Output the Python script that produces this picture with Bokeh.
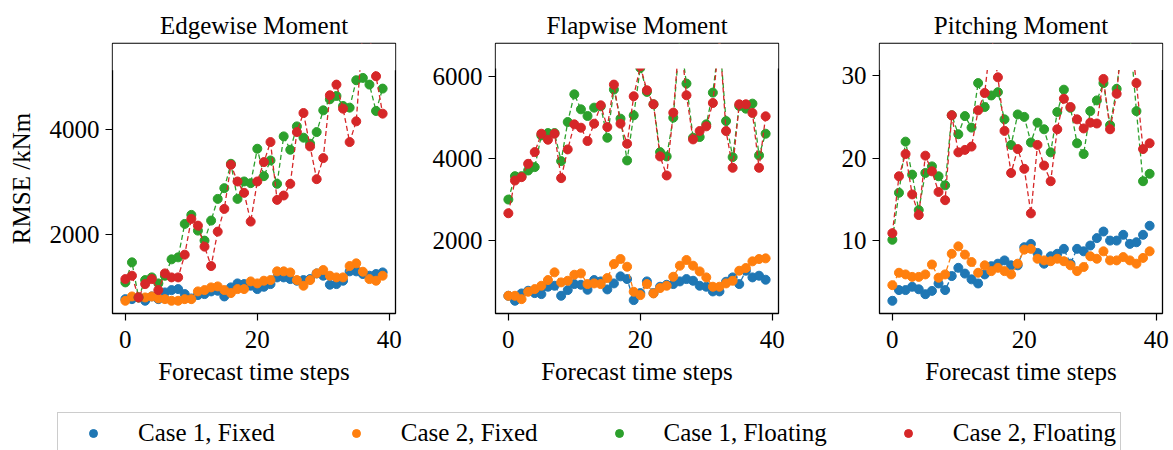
from bokeh.plotting import figure
from bokeh.models import Range1d, FixedTicker, BoxAnnotation, Legend, LegendItem, ColumnDataSource
from bokeh.layouts import row, column
from bokeh.embed import file_html
from bokeh.resources import INLINE

steps = list(range(40))

# Edgewise moment RMSE (kNm)
edge_c1_fixed = [774, 774, 806, 743, 825, 774, 901, 946, 965, 870, 787, 851, 870, 921, 933, 825, 997, 1073, 1060, 1029,
                 965, 1009, 1060, 1187, 1187, 1155, 1124, 1136, 1155, 1263, 1219, 1048, 1060, 1124, 1302, 1302, 1251, 1219, 1251, 1282]
edge_c2_fixed = [743, 825, 806, 806, 825, 787, 774, 743, 743, 774, 774, 921, 946, 997, 1016, 946, 889, 965, 965, 1111,
                 1073, 1124, 1136, 1302, 1302, 1282, 1136, 1029, 1136, 1263, 1327, 1219, 1187, 1187, 1403, 1454, 1295, 1155, 1124, 1219]
edge_c1_float = [1092, 1473, 806, 1136, 1187, 1073, 1219, 1530, 1568, 2203, 2375, 2076, 1886, 2267, 2679, 2883, 3346, 2679, 3010, 2978,
                 3632, 3111, 3410, 2965, 3867, 3613, 4057, 3842, 3727, 3949, 4362, 4572, 4635, 4445, 4413, 4934, 4978, 4851, 4350, 4775]
edge_c2_float = [1155, 1219, 806, 1060, 1155, 946, 1263, 1187, 1187, 1619, 2298, 2171, 1771, 1403, 2057, 2489, 3327, 3010, 2794, 2248,
                 3010, 3378, 3759, 2660, 2743, 2965, 3949, 4311, 3676, 3054, 3454, 4648, 4851, 4394, 3759, 4153, 5900, 5800, 5010, 4299]

# Flapwise moment RMSE (kNm)
flap_c1_fixed = [653, 531, 710, 776, 718, 694, 874, 898, 653, 792, 939, 922, 800, 1037, 1004, 808, 955, 1127, 1061, 547,
                 718, 1004, 718, 874, 922, 939, 1004, 1061, 1020, 898, 874, 759, 759, 996, 1102, 939, 1265, 1102, 1143, 1045]
flap_c2_fixed = [653, 653, 571, 751, 816, 898, 1037, 1225, 980, 1020, 1167, 1200, 939, 955, 939, 1086, 1429, 1551, 1363, 751,
                 669, 939, 710, 841, 898, 1118, 1388, 1527, 1388, 1249, 1102, 874, 874, 955, 1020, 1265, 1331, 1494, 1551, 1567]
flap_c1_float = [3004, 3575, 3575, 3714, 3796, 4571, 4628, 4628, 3943, 4898, 5575, 5208, 5045, 5249, 5282, 4514, 5690, 4980, 3959, 5061,
                 6220, 5633, 5331, 4163, 4057, 5004, 7000, 5837, 4514, 4531, 4841, 5616, 6950, 4922, 4041, 5290, 5224, 5347, 4082, 4612]
flap_c2_float = [2669, 3469, 3551, 3877, 4163, 4612, 4465, 4612, 3527, 4229, 4841, 4759, 4433, 4857, 5306, 4775, 5812, 4857, 4367, 5527,
                 6260, 5673, 5331, 4057, 3592, 5127, 7100, 5551, 4473, 4678, 4792, 5363, 7000, 4678, 3780, 5331, 5331, 5118, 3780, 5037]

# Pitching moment RMSE (kNm)
pitch_c1_fixed = [2.7, 4.0, 4.0, 4.4, 4.1, 3.5, 3.9, 4.8, 4.0, 5.7, 6.7, 6.0, 5.3, 4.8, 5.9, 6.9, 7.2, 7.6, 7.0, 7.0,
                  9.2, 9.6, 8.5, 7.2, 8.1, 8.4, 9.0, 7.2, 9.0, 8.7, 9.4, 10.3, 11.1, 10.0, 10.0, 10.7, 9.6, 9.8, 10.7, 11.8]
pitch_c2_fixed = [4.6, 6.1, 5.9, 5.6, 5.6, 5.9, 7.1, 5.5, 5.9, 8.4, 9.3, 8.3, 7.4, 6.1, 7.0, 6.3, 6.7, 6.3, 5.9, 7.2,
                  8.9, 9.0, 7.8, 7.6, 7.5, 7.8, 7.5, 7.0, 6.3, 6.8, 8.1, 7.8, 8.7, 7.6, 7.6, 8.0, 7.6, 7.2, 7.9, 8.7]
pitch_c1_float = [10.1, 15.8, 22.0, 18.0, 13.7, 18.2, 19.0, 17.8, 16.7, 25.2, 22.9, 25.1, 23.7, 29.1, 26.2, 27.6, 28.0, 24.7, 21.6, 25.3,
                  25.0, 21.9, 24.3, 23.5, 20.7, 25.6, 28.3, 26.1, 21.8, 20.5, 25.7, 27.0, 29.1, 24.0, 28.4, 35.5, 35.0, 25.7, 17.2, 18.1]
pitch_c2_float = [10.9, 17.8, 20.5, 15.6, 13.1, 20.3, 18.4, 15.9, 14.9, 25.2, 20.7, 21.0, 21.4, 25.8, 27.9, 35.0, 29.8, 23.3, 18.2, 21.1,
                  18.7, 13.3, 21.6, 19.1, 17.2, 23.5, 27.2, 26.2, 24.7, 23.6, 24.3, 24.2, 29.6, 23.5, 27.8, 36.0, 35.5, 29.1, 21.1, 21.8]

series_labels = ["Case 1, Fixed", "Case 2, Fixed", "Case 1, Floating", "Case 2, Floating"]
series_colors = ["#1f77b4", "#ff7f0e", "#2ca02c", "#d62728"]

titles = ["Edgewise Moment", "Flapwise Moment", "Pitching Moment"]
x_ticks = [0, 20, 40]
y_ticks = [[2000, 4000], [2000, 4000, 6000], [10, 20, 30]]
y_limits = [(501, 5632), (220, 6816), (1.16, 33.9)]
y_caps = [5124, 6204, 30.7]
panel_data = [
    [edge_c1_fixed, edge_c2_fixed, edge_c1_float, edge_c2_float],
    [flap_c1_fixed, flap_c2_fixed, flap_c1_float, flap_c2_float],
    [pitch_c1_fixed, pitch_c2_fixed, pitch_c1_float, pitch_c2_float],
]

FONT = "Liberation Serif"
FS = "25px"
X0, X1 = -1.95, 40.95
H = 400
FRAME_W = 283
FRAME_H = 270
widths = [425, 390, 358]
left_borders = [112, 70, 64]

figs = []
for k in range(3):
    p = figure(width=widths[k], height=H, output_backend="svg", toolbar_location=None,
               x_range=Range1d(X0, X1), y_range=Range1d(*y_limits[k]),
               min_border_left=left_borders[k], min_border_right=widths[k] - left_borders[k] - FRAME_W,
               min_border_top=43, min_border_bottom=H - 43 - FRAME_H)
    p.title.text = titles[k]
    p.title.align = "center"
    p.title.text_font = FONT
    p.title.text_font_size = FS
    p.title.text_font_style = "normal"
    p.title.text_color = "black"
    p.title.standoff = 9
    p.xgrid.visible = False
    p.ygrid.visible = False
    p.outline_line_color = "black"
    p.outline_line_width = 1.3
    p.outline_line_alpha = 1
    p.background_fill_color = "white"
    p.border_fill_color = "white"
    for ax in (p.xaxis[0], p.yaxis[0]):
        ax.axis_line_color = None
        ax.major_tick_out = 7
        ax.major_tick_in = 0
        ax.major_tick_line_color = "black"
        ax.major_tick_line_width = 1.2
        ax.minor_tick_line_color = None
        ax.major_label_text_font = FONT
        ax.major_label_text_font_size = FS
        ax.major_label_text_color = "black"
        ax.major_label_standoff = 6
        ax.axis_label_text_font = FONT
        ax.axis_label_text_font_size = FS
        ax.axis_label_text_font_style = "normal"
        ax.axis_label_text_color = "black"
    p.xaxis.ticker = FixedTicker(ticks=x_ticks)
    p.yaxis.ticker = FixedTicker(ticks=y_ticks[k])
    p.xaxis.major_label_standoff = 10
    p.xaxis.axis_label = "Forecast time steps"
    p.xaxis.axis_label_standoff = 7
    if k == 0:
        p.yaxis.axis_label = "RMSE /kNm"
        p.yaxis.axis_label_standoff = 12

    for vals, col in zip(panel_data[k], series_colors):
        src = ColumnDataSource(dict(x=steps, y=vals))
        p.line("x", "y", source=src, line_color=col, line_width=1.3, line_dash="5 3")
        p.scatter("x", "y", source=src, size=9, fill_color=col, line_color=col)

    p.add_layout(BoxAnnotation(bottom=y_caps[k], fill_color="white", fill_alpha=1.0,
                               line_color=None, level="overlay"))
    figs.append(p)

# Legend strip
lg = figure(width=1173, height=50, output_backend="svg", toolbar_location=None,
            x_axis_location=None, y_axis_location=None,
            min_border_left=47, min_border_top=2, min_border_right=0, min_border_bottom=0)
lg.xgrid.visible = False
lg.ygrid.visible = False
lg.outline_line_color = None
items = []
for lab, col in zip(series_labels, series_colors):
    r = lg.scatter(x=[float("nan")], y=[float("nan")], size=9, fill_color=col, line_color=col)
    items.append(LegendItem(label=lab, renderers=[r]))
legend = Legend(items=items, orientation="horizontal", location="top_left",
                margin=10, padding=4, spacing=50, glyph_width=62, glyph_height=20, label_height=32,
                label_standoff=14,
                label_text_font=FONT, label_text_font_size=FS, label_text_color="black",
                border_line_color="#cccccc", border_line_width=1, border_line_alpha=1,
                background_fill_color="white", background_fill_alpha=1)
lg.add_layout(legend, "center")

layout = column(row(*figs), lg)
open("out.html", "w").write(file_html(layout, INLINE))
